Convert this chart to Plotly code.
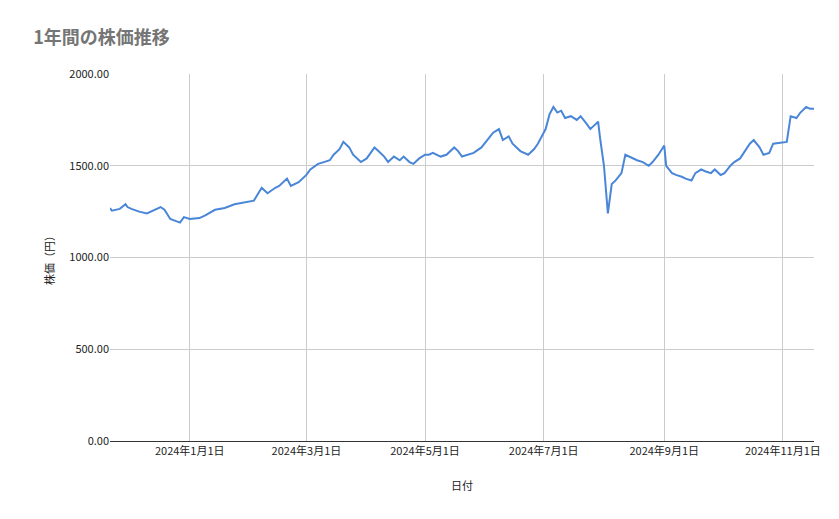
import plotly.graph_objects as go

dates = [
    "2023-11-21", "2023-11-22", "2023-11-26", "2023-11-29", "2023-11-30", "2023-12-02",
    "2023-12-06", "2023-12-10", "2023-12-17", "2023-12-19", "2023-12-22", "2023-12-27",
    "2023-12-29", "2024-01-01", "2024-01-06", "2024-01-09", "2024-01-14", "2024-01-19",
    "2024-01-24", "2024-01-29", "2024-02-03", "2024-02-07", "2024-02-10", "2024-02-14",
    "2024-02-16", "2024-02-20", "2024-02-22", "2024-02-26", "2024-03-01", "2024-03-03",
    "2024-03-07", "2024-03-10", "2024-03-13", "2024-03-15", "2024-03-18", "2024-03-20",
    "2024-03-23", "2024-03-25", "2024-03-29", "2024-04-01", "2024-04-05", "2024-04-07",
    "2024-04-10", "2024-04-12", "2024-04-15", "2024-04-18", "2024-04-20", "2024-04-23",
    "2024-04-25", "2024-04-28", "2024-05-01", "2024-05-03", "2024-05-05", "2024-05-09",
    "2024-05-12", "2024-05-16", "2024-05-18", "2024-05-20", "2024-05-23", "2024-05-26",
    "2024-05-30", "2024-06-02", "2024-06-05", "2024-06-08", "2024-06-10", "2024-06-13",
    "2024-06-15", "2024-06-19", "2024-06-23", "2024-06-26", "2024-06-28", "2024-07-01",
    "2024-07-02", "2024-07-04", "2024-07-06", "2024-07-08", "2024-07-10", "2024-07-12",
    "2024-07-15", "2024-07-18", "2024-07-20", "2024-07-23", "2024-07-25", "2024-07-27",
    "2024-07-29", "2024-07-30", "2024-08-01", "2024-08-03", "2024-08-05", "2024-08-07",
    "2024-08-10", "2024-08-12", "2024-08-16", "2024-08-18", "2024-08-21", "2024-08-24",
    "2024-08-26", "2024-08-29", "2024-09-01", "2024-09-02", "2024-09-05", "2024-09-07",
    "2024-09-10", "2024-09-12", "2024-09-15", "2024-09-17", "2024-09-20", "2024-09-22",
    "2024-09-25", "2024-09-27", "2024-09-30", "2024-10-02", "2024-10-05", "2024-10-07",
    "2024-10-10", "2024-10-12", "2024-10-15", "2024-10-17", "2024-10-20", "2024-10-22",
    "2024-10-25", "2024-10-27", "2024-11-01", "2024-11-03", "2024-11-05", "2024-11-08",
    "2024-11-10", "2024-11-13", "2024-11-15", "2024-11-17",
]
prices = [
    1270, 1255, 1265, 1290, 1275, 1265,
    1250, 1240, 1275, 1260, 1210, 1190,
    1220, 1210, 1215, 1230, 1260, 1270,
    1290, 1300, 1310, 1380, 1350, 1380,
    1390, 1430, 1390, 1410, 1450, 1480,
    1510, 1520, 1530, 1560, 1590, 1630,
    1600, 1560, 1520, 1540, 1600, 1580,
    1550, 1520, 1550, 1530, 1550, 1520,
    1510, 1540, 1560, 1560, 1570, 1550,
    1560, 1600, 1580, 1550, 1560, 1570,
    1600, 1640, 1680, 1700, 1640, 1660,
    1620, 1580, 1560, 1590, 1620, 1680,
    1700, 1780, 1820, 1790, 1800, 1760,
    1770, 1750, 1770, 1730, 1700, 1720,
    1740, 1650, 1500, 1240, 1400, 1420,
    1460, 1560, 1540, 1530, 1520, 1500,
    1520, 1560, 1610, 1500, 1460, 1450,
    1440, 1430, 1420, 1460, 1480, 1470,
    1460, 1480, 1450, 1460, 1500, 1520,
    1540, 1570, 1620, 1640, 1600, 1560,
    1570, 1620, 1630, 1630, 1770, 1760,
    1790, 1820, 1810, 1810,
]
tick_dates = ["2024-01-01", "2024-03-01", "2024-05-01", "2024-07-01", "2024-09-01", "2024-11-01"]
tick_labels = ["2024年1月1日", "2024年3月1日", "2024年5月1日", "2024年7月1日", "2024年9月1日", "2024年11月1日"]

font = "Noto Sans CJK JP"

fig = go.Figure(go.Scatter(x=dates, y=prices, mode="lines",
                           line=dict(color="#4a86d8", width=2)))
fig.update_layout(
    width=839, height=519,
    margin=dict(l=102, r=33, t=66, b=86),
    paper_bgcolor="white", plot_bgcolor="white",
    font=dict(family=font, size=11, color="#222222"),
    title=dict(text="<b>1年間の株価推移</b>", x=0.03, y=0.955, xanchor="left",
               font=dict(size=18, color="#757575")),
    showlegend=False,
)
fig.update_xaxes(range=[dates[0], dates[-1]], tickvals=tick_dates, ticktext=tick_labels,
                 showgrid=True, gridcolor="#cccccc", showline=True, linecolor="#333333",
                 ticks="", title=dict(text="日付", standoff=25, font=dict(size=11)))
fig.update_yaxes(range=[0, 2000], dtick=500, tickformat=".2f", showgrid=True,
                 gridcolor="#cccccc", zeroline=False, ticks="",
                 title=dict(text="株価（円）", standoff=12, font=dict(size=11)))
fig.write_html("out.html")
